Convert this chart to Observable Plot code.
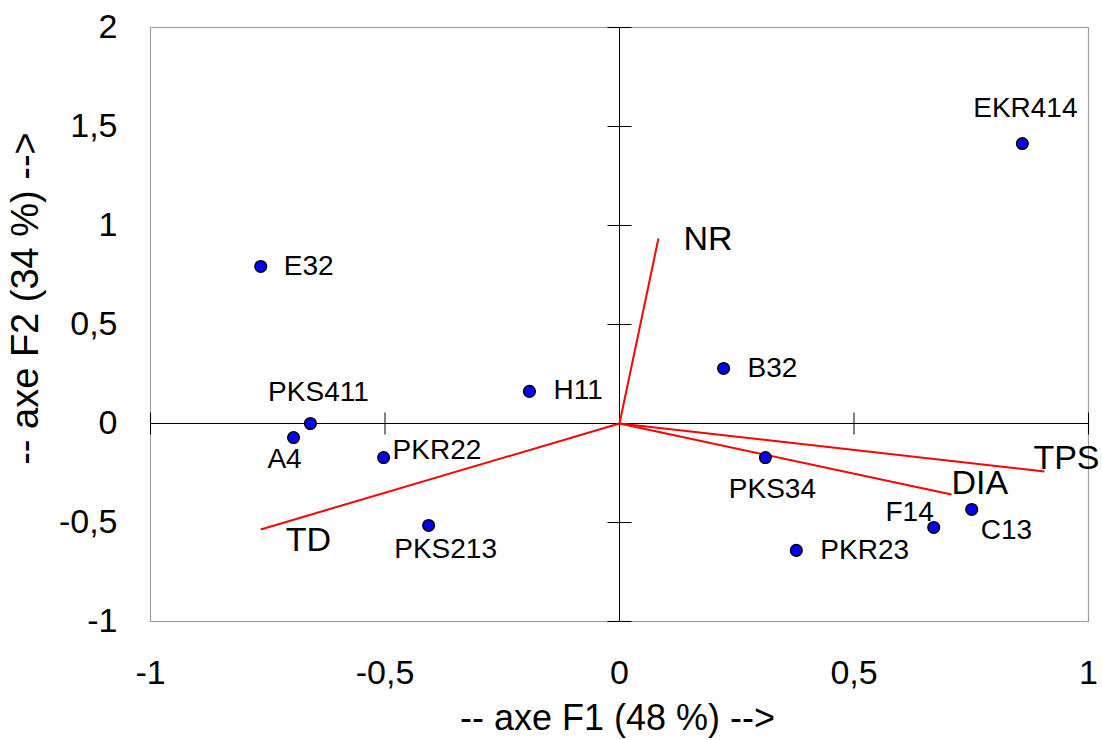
<!DOCTYPE html>
<html>
<head>
<meta charset="utf-8">
<script src="https://cdn.jsdelivr.net/npm/d3@7"></script>
<script src="https://cdn.jsdelivr.net/npm/@observablehq/plot@0.6"></script>
<style>
  html, body { margin: 0; padding: 0; background: #fff; }
  #chart svg { display: block; font-family: "Liberation Sans", Arial, sans-serif; }
</style>
</head>
<body>
<div id="chart"></div>
<script>
// Individuals (observations) on the F1 x F2 plane
const obsNames = ["EKR414", "E32", "B32", "H11", "PKS411", "A4", "PKR22", "PKS213", "PKS34", "PKR23", "F14", "C13"];
const obsF1 = [0.859, -0.765, 0.222, -0.192, -0.659, -0.695, -0.503, -0.407, 0.311, 0.377, 0.670, 0.751];
const obsF2 = [1.414, 0.793, 0.278, 0.162, 0.000, -0.071, -0.172, -0.515, -0.172, -0.641, -0.525, -0.434];

// Variables (loadings)
const varNames = ["NR", "TPS", "DIA", "TD"];
const varF1 = [0.083, 0.906, 0.708, -0.765];
const varF2 = [0.934, -0.242, -0.359, -0.535];

// Axis ticks
const xTicks = [-1, -0.5, 0, 0.5, 1];
const yTicks = [-1, -0.5, 0, 0.5, 1, 1.5, 2];

// Label placement (offsets in pixels from the point)
const obsLabelOffsets = {
  EKR414: {dx: 3, dy: -35, anchor: "middle"},
  E32: {dx: 23, dy: 0, anchor: "start"},
  B32: {dx: 24, dy: 0, anchor: "start"},
  H11: {dx: 24, dy: -1, anchor: "start"},
  PKS411: {dx: 8, dy: -31, anchor: "middle"},
  A4: {dx: -9, dy: 21, anchor: "middle"},
  PKR22: {dx: 9, dy: -8, anchor: "start"},
  PKS213: {dx: 17, dy: 24, anchor: "middle"},
  PKS34: {dx: 7, dy: 31, anchor: "middle"},
  PKR23: {dx: 24, dy: 0, anchor: "start"},
  F14: {dx: 0, dy: -15, anchor: "end"},
  C13: {dx: 9, dy: 21, anchor: "start"}
};
const varLabelOffsets = {
  NR: {dx: 25, dy: 1}, TPS: {dx: -11, dy: -13}, DIA: {dx: 0, dy: -11}, TD: {dx: 25, dy: 11}
};

const obs = obsNames.map((name, i) => ({name, x: obsF1[i], y: obsF2[i]}));
const vars = varNames.map((name, i) => ({name, x: varF1[i], y: varF2[i]}));
const fmt = d => String(d).replace(".", ",");

const hTick = {draw(ctx) { ctx.moveTo(-12, 0); ctx.lineTo(12, 0); }};
const vTick = {draw(ctx) { ctx.moveTo(0, -11); ctx.lineTo(0, 11); }};

const obsLabelMarks = obs.map(d => {
  const o = obsLabelOffsets[d.name];
  return Plot.text([d], {
    x: "x", y: "y", text: "name", dx: o.dx, dy: o.dy, textAnchor: o.anchor,
    fontSize: 28, fill: "black"
  });
});
const varLabelMarks = vars.map(v => {
  const o = varLabelOffsets[v.name];
  return Plot.text([v], {
    x: "x", y: "y", text: "name", dx: o.dx, dy: o.dy,
    textAnchor: "start", fontSize: 34, fill: "black"
  });
});

const chart = Plot.plot({
  width: 1102,
  height: 740,
  marginLeft: 150,
  marginRight: 14,
  marginTop: 27,
  marginBottom: 119,
  style: {fontFamily: "'Liberation Sans', Arial, sans-serif", color: "black", background: "white"},
  x: {domain: [-1, 1]},
  y: {domain: [-1, 2]},
  marks: [
    Plot.frame({stroke: "#a0a0a0", strokeWidth: 1.2}),
    Plot.axisX({ticks: xTicks, tickFormat: fmt, tickSize: 0, tickPadding: 38, fontSize: 34, label: null}),
    Plot.axisY({ticks: yTicks, tickFormat: fmt, tickSize: 0, tickPadding: 33, fontSize: 34, label: null}),
    Plot.ruleX([0], {stroke: "black", strokeWidth: 1}),
    Plot.ruleY([0], {stroke: "black", strokeWidth: 1}),
    Plot.dot(yTicks.filter(t => t !== 0), {x: 0, y: d => d, symbol: hTick, stroke: "black", strokeWidth: 1, r: 12}),
    Plot.dot(xTicks.filter(t => t !== 0), {x: d => d, y: 0, symbol: vTick, stroke: "black", strokeWidth: 1, r: 12}),
    Plot.link(vars, {x1: 0, y1: 0, x2: "x", y2: "y", stroke: "red", strokeWidth: 2}),
    Plot.dot(obs, {x: "x", y: "y", r: 5.8, fill: "#0000ff", stroke: "black", strokeWidth: 1.5}),
    ...obsLabelMarks,
    ...varLabelMarks,
    Plot.text(["-- axe F1 (48 %) -->"], {frameAnchor: "bottom", textAnchor: "middle", lineAnchor: "middle", dy: 97, dx: -2, fontSize: 36, fill: "black"}),
    Plot.text(["-- axe F2 (34 %) -->"], {frameAnchor: "left", textAnchor: "middle", lineAnchor: "middle", dx: -125, dy: -26, rotate: -90, fontSize: 38, fill: "black"})
  ]
});
document.getElementById("chart").appendChild(chart);
</script>
</body>
</html>
